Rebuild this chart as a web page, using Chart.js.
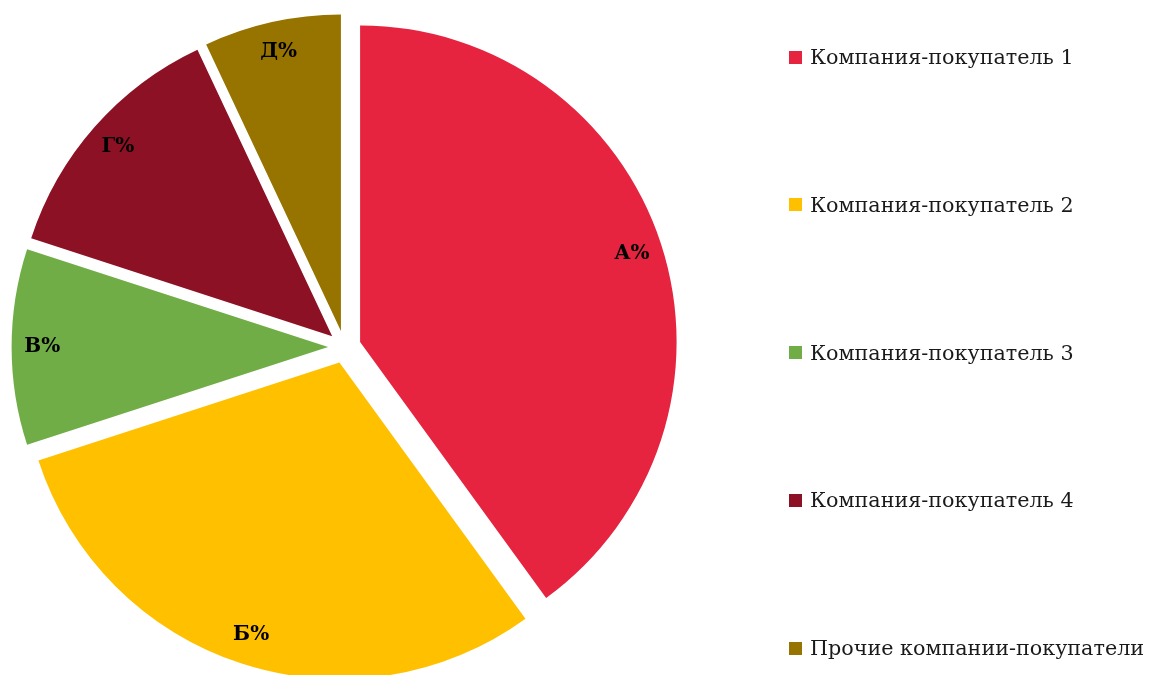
<!DOCTYPE html>
<html>
<head>
<meta charset="utf-8">
<script src="https://cdn.jsdelivr.net/npm/chart.js@4/dist/chart.umd.min.js"></script>
<style>
	html, body { margin: 0; padding: 0; background: #fff; overflow: hidden; }
	#wrap { position: relative; width: 1150px; height: 675px; }
	#buyers-chart { position: absolute; left: 0; top: 0; }
	#buyers-legend { position: absolute; left: 789px; top: 42px; margin: 0; padding: 0; list-style: none; }
	#buyers-legend li { height: 30px; margin-bottom: 117.75px; display: flex; align-items: center; white-space: nowrap;
		font-family: "DejaVu Serif", serif; font-size: 20.7px; color: #1a1a1a; }
	#buyers-legend li span { display: inline-block; width: 13px; height: 13px; margin-right: 8px; }
</style>
</head>
<body>
<div id="wrap">
	<canvas id="buyers-chart" width="1150" height="675"></canvas>
	<ul id="buyers-legend"></ul>
</div>
<script>
var categories = ['Компания-покупатель 1', 'Компания-покупатель 2', 'Компания-покупатель 3', 'Компания-покупатель 4', 'Прочие компании-покупатели'];
var shares = [40, 30, 10, 13, 7];
var sliceLabels = ['А%', 'Б%', 'В%', 'Г%', 'Д%'];
var sliceColors = ['#E62440', '#FFC000', '#70AD47', '#8C1124', '#977300'];

var explode = 16.4; // every slice pulled out from the centre by this many px

// draw the library's arcs ourselves, each one shifted out along its middle angle
var explodePlugin = {
	id: 'explode',
	beforeDatasetDraw: function(chart, args) {
		var ctx = chart.ctx;
		args.meta.data.forEach(function(arc) {
			var mid = (arc.startAngle + arc.endAngle) / 2;
			ctx.save();
			ctx.translate(Math.cos(mid) * explode, Math.sin(mid) * explode);
			arc.draw(ctx, chart.chartArea);
			ctx.restore();
		});
		return false;
	}
};

// labels inside each slice, near the rim
var sliceLabelPlugin = {
	id: 'sliceLabels',
	afterDatasetsDraw: function(chart) {
		var ctx = chart.ctx;
		var meta = chart.getDatasetMeta(0);
		ctx.save();
		ctx.font = 'bold 20px "DejaVu Serif", serif';
		ctx.fillStyle = '#000';
		ctx.textAlign = 'center';
		ctx.textBaseline = 'middle';
		meta.data.forEach(function(arc, i) {
			var mid = (arc.startAngle + arc.endAngle) / 2;
			var r = explode + arc.outerRadius * 0.903;
			ctx.fillText(sliceLabels[i], arc.x + Math.cos(mid) * r, arc.y + Math.sin(mid) * r);
		});
		ctx.restore();
	}
};

var htmlLegendPlugin = {
	id: 'htmlLegend',
	afterUpdate: function(chart) {
		var ul = document.getElementById('buyers-legend');
		ul.innerHTML = '';
		var items = chart.options.plugins.legend.labels.generateLabels(chart);
		items.forEach(function(item) {
			var li = document.createElement('li');
			var box = document.createElement('span');
			box.style.background = item.fillStyle;
			li.appendChild(box);
			li.appendChild(document.createTextNode(item.text));
			ul.appendChild(li);
		});
	}
};

var buyersCtx = document.getElementById('buyers-chart').getContext('2d');
var buyersChart = new Chart(buyersCtx, {
	type: 'pie',
	data: {
		labels: categories,
		datasets: [{
			data: shares,
			backgroundColor: sliceColors,
			borderWidth: 0,
			offset: 0,
			hoverOffset: 0
		}]
	},
	options: {
		responsive: false,
		animation: false,
		events: [],
		layout: {
			padding: { left: 28, top: 30.5, right: 489, bottom: 11.5 }
		},
		plugins: {
			legend: { display: false },
			tooltip: { enabled: false }
		}
	},
	plugins: [explodePlugin, sliceLabelPlugin, htmlLegendPlugin]
});
</script>
</body>
</html>
